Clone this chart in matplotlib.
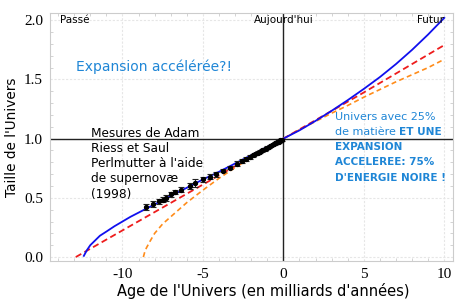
import matplotlib
matplotlib.use("Agg")
import matplotlib.pyplot as plt
from matplotlib.ticker import MultipleLocator

# ---- data ----
blue_x = [-12.4, -12.2, -12.0, -11.7, -11.4, -11.0, -10.5, -10.0, -9.5, -9.0, -8.5, -8.0, -7.0,
          -6.0, -5.0, -4.0, -3.0, -2.0, -1.0, 0.0, 1.0, 2.0, 3.0, 4.0, 5.0, 6.0, 7.0, 8.0, 9.0, 10.0]
blue_y = [0.01, 0.06, 0.10, 0.14, 0.18, 0.215, 0.26, 0.30, 0.34, 0.375, 0.41, 0.445, 0.515,
          0.585, 0.655, 0.72, 0.79, 0.86, 0.93, 1.0, 1.07, 1.15, 1.235, 1.325, 1.42, 1.52, 1.63, 1.75, 1.88, 2.02]

red_x = [-12.9, -10.0, -5.0, 0.0, 5.0, 10.0]
red_y = [0.0, 0.225, 0.612, 1.0, 1.39, 1.79]

orange_x = [-8.7, -8.6, -8.5, -8.3, -8.0, -7.5, -7.0, -6.0, -5.0, -4.0, -3.0, -2.0, -1.0,
            0.0, 1.0, 2.0, 3.0, 4.0, 5.0, 6.0, 7.0, 8.0, 9.0, 10.0]
orange_y = [0.0, 0.05, 0.08, 0.13, 0.20, 0.28, 0.34, 0.46, 0.565, 0.665, 0.755, 0.84, 0.92,
            1.0, 1.075, 1.145, 1.215, 1.28, 1.35, 1.415, 1.48, 1.54, 1.60, 1.67]

data_x = [-8.52, -8.07, -7.74, -7.49, -7.28, -6.97, -6.76, -6.34, -5.83, -5.51, -5.0, -4.58,
          -4.16, -3.75, -3.33, -2.91, -2.6, -2.3, -2.1, -1.9, -1.75, -1.6, -1.45, -1.3, -1.15,
          -1.0, -0.9, -0.8, -0.7, -0.6, -0.5, -0.4, -0.3, -0.2, -0.1]
data_y = [0.42, 0.45, 0.47, 0.485, 0.50, 0.53, 0.55, 0.57, 0.60, 0.625, 0.655, 0.68,
          0.70, 0.73, 0.755, 0.79, 0.81, 0.83, 0.845, 0.86, 0.87, 0.88, 0.89, 0.90, 0.91,
          0.925, 0.93, 0.94, 0.945, 0.955, 0.96, 0.97, 0.975, 0.985, 0.99]
data_err = [0.025, 0.025, 0.02, 0.02, 0.025, 0.02, 0.02, 0.02, 0.025, 0.035, 0.02, 0.02,
            0.02, 0.015, 0.015, 0.02, 0.015, 0.015, 0.015, 0.012, 0.012, 0.012, 0.012, 0.012,
            0.012, 0.01, 0.01, 0.01, 0.01, 0.01, 0.01, 0.01, 0.01, 0.01, 0.01]

xticks = [-10, -5, 0, 5, 10]
yticks = [0.0, 0.5, 1.0, 1.5, 2.0]

BLUE_TXT = '#1f86d6'
SANS = ['DejaVu Sans']
SERIF = ['Liberation Serif', 'DejaVu Serif']

fig = plt.figure(figsize=(4.72, 3.05), dpi=100)
ax = fig.add_axes([0.106, 0.144, 0.854, 0.813])
ax.set_xlim(-14.5, 10.55)
ax.set_ylim(-0.034, 2.06)

ax.grid(True, which='major', color='#e6e6e6', lw=0.8, ls=(0, (2, 1.5)))
ax.set_axisbelow(True)

ax.axhline(1.0, color='#222222', lw=1.0, zorder=2)
ax.axvline(0.0, color='#222222', lw=1.0, zorder=2)

ax.plot(orange_x, orange_y, color='#ff8c1a', lw=1.2, ls=(0, (3, 2)), zorder=3)
ax.plot(red_x, red_y, color='#ee1c1c', lw=1.3, ls=(0, (3.5, 2)), zorder=3)
ax.plot(blue_x, blue_y, color='#1010ee', lw=1.3, zorder=3)
ax.errorbar(data_x, data_y, yerr=data_err, fmt='o', ms=2.8, color='black',
            ecolor='#222222', elinewidth=0.8, capsize=2.2, capthick=0.8, zorder=4)

ax.set_xticks(xticks)
ax.set_yticks(yticks)
ax.set_xticklabels(['-10', '-5', '0', '5', '10'], family=SERIF, fontsize=11)
ax.set_yticklabels(['0.0', '0.5', '1.0', '1.5', '2.0'], family=SERIF, fontsize=11)
ax.xaxis.set_minor_locator(MultipleLocator(1))
ax.yaxis.set_minor_locator(MultipleLocator(0.1))
ax.tick_params(which='both', direction='in', color='#cccccc', top=True, right=True)
ax.tick_params(which='major', length=0, pad=5)
ax.tick_params(which='minor', length=2.5)
for s in ax.spines.values():
    s.set_color('#cccccc')
    s.set_linewidth(0.8)

ax.set_xlabel("Age de l'Univers (en milliards d'années)", family=SANS, fontsize=10.5)
ax.xaxis.set_label_coords(0.53, -0.09)
ax.set_ylabel("Taille de l'Univers", family=SANS, fontsize=9.8)
ax.yaxis.set_label_coords(-0.076, 0.5)

ax.text(-13.9, 2.0, 'Passé', family=SANS, fontsize=7.5, ha='left', va='center')
ax.text(0.0, 2.0, "Aujourd'hui", family=SANS, fontsize=7.5, ha='center', va='center')
ax.text(10.0, 2.0, 'Futur', family=SANS, fontsize=7.5, ha='right', va='center')
ax.text(-12.9, 1.61, 'Expansion accélérée?!', family=SANS, fontsize=10, color=BLUE_TXT,
        ha='left', va='center')

ax.text(-11.95, 1.10, "Mesures de Adam\nRiess et Saul\nPerlmutter à l'aide\nde supernovæ\n(1998)",
        family=SANS, fontsize=8.7, ha='left', va='top', linespacing=1.22)

# right blue annotation
tx = 3.18
lines = [
    [("Univers avec 25%", 'normal', 8.0)],
    [("de matière ", 'normal', 8.0), ("ET UNE", 'bold', 7.6)],
    [("EXPANSION", 'bold', 7.5)],
    [("ACCELEREE: 75%", 'bold', 7.5)],
    [("D'ENERGIE NOIRE !", 'bold', 7.5)],
]
ys = [1.185, 1.055, 0.93, 0.80, 0.67]
fig.canvas.draw()
for parts, yy in zip(lines, ys):
    x = tx
    for txt, w, fs in parts:
        t = ax.text(x, yy, txt, family=SANS, fontsize=fs, color=BLUE_TXT, fontweight=w,
                    ha='left', va='center')
        fig.canvas.draw()
        bb = t.get_window_extent()
        x = ax.transData.inverted().transform((bb.x1, bb.y0))[0]

fig.savefig('out.png', dpi=100)
